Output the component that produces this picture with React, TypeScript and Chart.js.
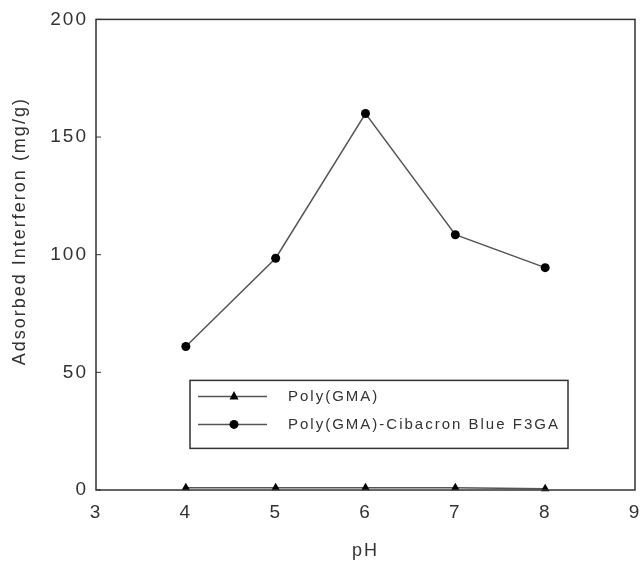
import React, { useEffect, useRef } from 'react';
import { Chart, registerables } from 'chart.js';

Chart.register(...registerables);

// ---- data ----
const pHValues = [4, 5, 6, 7, 8];
const polyGMA = [1, 1, 1, 1, 0.5];
const polyGMACB = [61, 98.5, 160, 108.5, 94.5];
const xTicks = [3, 4, 5, 6, 7, 8, 9];
const yTicks = [0, 50, 100, 150, 200];
const seriesLabels = ['Poly(GMA)', 'Poly(GMA)-Cibacron Blue F3GA'];
const seriesStyles = ['triangle', 'circle'];
const xTitle = 'pH';
const yTitle = 'Adsorbed Interferon (mg/g)';

const FONT = "'Liberation Sans', Arial, sans-serif";
const TEXT = '#333333';
const LINE = '#555555';

const spacingPlugin = {
  id: 'spacing',
  beforeUpdate(c: any) { c.ctx.letterSpacing = '2px'; },
  beforeLayout(c: any) { c.ctx.letterSpacing = '2px'; },
  beforeDraw(c: any) { c.ctx.letterSpacing = '2px'; },
};

const framePlugin = {
  id: 'frame',
  afterDraw(c: any) {
    const ctx = c.ctx;
    const a = c.chartArea;
    ctx.save();
    ctx.strokeStyle = '#333';
    ctx.lineWidth = 1.5;
    ctx.strokeRect(a.left, a.top, a.right - a.left, a.bottom - a.top);
    // inward y ticks
    const ys = c.scales.y;
    ctx.lineWidth = 1;
    ys.ticks.forEach((t: any) => {
      const y = ys.getPixelForValue(t.value);
      ctx.beginPath();
      ctx.moveTo(a.left, y);
      ctx.lineTo(a.left + 5, y);
      ctx.stroke();
    });
    // y axis title (rotated), placed as in the original figure
    ctx.fillStyle = TEXT;
    ctx.font = `18px ${FONT}`;
    ctx.textAlign = 'center';
    ctx.textBaseline = 'middle';
    ctx.translate(20, a.top + (a.bottom - a.top) * 0.45);
    ctx.rotate(-Math.PI / 2);
    ctx.fillText(yTitle, 0, 0);
    ctx.restore();
  },
};

function drawMarker(ctx: CanvasRenderingContext2D, style: string, x: number, y: number, r: number) {
  ctx.beginPath();
  if (style === 'triangle') {
    ctx.moveTo(x, y - r * 1.2);
    ctx.lineTo(x + r, y + r * 0.7);
    ctx.lineTo(x - r, y + r * 0.7);
    ctx.closePath();
  } else {
    ctx.arc(x, y, r, 0, Math.PI * 2);
  }
  ctx.fill();
}

const legendPlugin = {
  id: 'boxLegend',
  afterDraw(c: any) {
    const ctx = c.ctx;
    const a = c.chartArea;
    const bx = a.left + 94;
    const by = a.top + 361;
    const bw = 378;
    const bh = 68;
    ctx.save();
    ctx.fillStyle = '#fff';
    ctx.fillRect(bx, by, bw, bh);
    ctx.strokeStyle = '#333';
    ctx.lineWidth = 1.5;
    ctx.strokeRect(bx, by, bw, bh);
    c.data.datasets.forEach((ds: any, i: number) => {
      const y = by + 16 + i * 28;
      ctx.strokeStyle = ds.borderColor;
      ctx.lineWidth = 1.5;
      ctx.beginPath();
      ctx.moveTo(bx + 8, y);
      ctx.lineTo(bx + 77, y);
      ctx.stroke();
      ctx.fillStyle = '#000';
      drawMarker(ctx, ds.pointStyle, bx + 44, y, 4.5);
      ctx.fillStyle = TEXT;
      ctx.font = `15px ${FONT}`;
      ctx.textAlign = 'left';
      ctx.textBaseline = 'middle';
      ctx.fillText(ds.label, bx + 98, y);
    });
    ctx.restore();
  },
};

export default function App() {
  const ref = useRef<HTMLCanvasElement>(null);
  useEffect(() => {
    document.body.style.margin = '0';
    const chart = new Chart(ref.current!, {
      type: 'line',
      data: {
        datasets: [
          {
            label: seriesLabels[0],
            data: pHValues.map((x, i) => ({ x, y: polyGMA[i] })),
            borderColor: LINE,
            borderWidth: 1.5,
            pointStyle: seriesStyles[0] as any,
            pointRadius: 5,
            pointBackgroundColor: '#000',
            pointBorderColor: '#000',
            pointBorderWidth: 0,
            clip: false as any,
          },
          {
            label: seriesLabels[1],
            data: pHValues.map((x, i) => ({ x, y: polyGMACB[i] })),
            borderColor: LINE,
            borderWidth: 1.5,
            pointStyle: seriesStyles[1] as any,
            pointRadius: 4.5,
            pointBackgroundColor: '#000',
            pointBorderColor: '#000',
            pointBorderWidth: 0,
            clip: false as any,
          },
        ],
      },
      options: {
        animation: false,
        responsive: false,
        events: [],
        layout: { padding: { top: 18, right: 3, left: 0, bottom: 0 } },
        plugins: { legend: { display: false }, tooltip: { enabled: false } },
        scales: {
          x: {
            type: 'linear',
            min: 3,
            max: 9,
            afterBuildTicks: (s: any) => { s.ticks = xTicks.map((v) => ({ value: v })); },
            afterFit: (s: any) => { s.height = 72; s.paddingRight = 0; s.paddingLeft = 0; },
            grid: { display: false, drawTicks: false },
            border: { display: false },
            ticks: { color: TEXT, font: { family: FONT, size: 19 }, padding: 11, maxRotation: 0 },
            title: { display: true, text: xTitle, color: TEXT, font: { family: FONT, size: 18 }, padding: { top: 0, bottom: 0 } },
          },
          y: {
            type: 'linear',
            min: 0,
            max: 200,
            afterBuildTicks: (s: any) => { s.ticks = yTicks.map((v) => ({ value: v })); },
            afterFit: (s: any) => { s.width = 96; },
            grid: { display: false, drawTicks: false },
            border: { display: false },
            ticks: { color: TEXT, font: { family: FONT, size: 19 }, padding: 8 },
            title: { display: false, text: yTitle },
          },
        },
      },
      plugins: [spacingPlugin, framePlugin, legendPlugin],
    });
    return () => chart.destroy();
  }, []);
  return (
    <div style={{ position: 'fixed', left: 0, top: 0, width: 640, height: 562, background: '#fff' }}>
      <canvas ref={ref} width={640} height={562} />
    </div>
  );
}
